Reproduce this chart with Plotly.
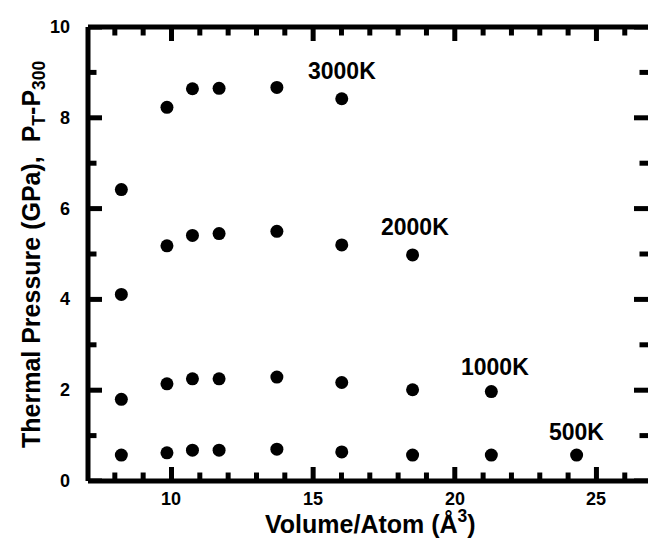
import plotly.graph_objects as go

# Volume per atom (Å^3) at which the thermal pressure was evaluated
volume = [8.23, 9.84, 10.74, 11.68, 13.72, 16.01, 18.51, 21.29, 24.30]

# Thermal pressure P_T - P_300 (GPa) for each isotherm
p_3000K = [6.42, 8.23, 8.64, 8.65, 8.67, 8.42]
p_2000K = [4.11, 5.18, 5.41, 5.45, 5.50, 5.20, 4.98]
p_1000K = [1.80, 2.14, 2.25, 2.25, 2.29, 2.17, 2.01, 1.97]
p_500K = [0.57, 0.62, 0.68, 0.68, 0.70, 0.64, 0.57, 0.57, 0.57]

series = [("3000K", p_3000K), ("2000K", p_2000K), ("1000K", p_1000K), ("500K", p_500K)]

# Isotherm labels: (text, volume, pressure) where each label sits
labels = [("3000K", 16.02, 9.04), ("2000K", 18.60, 5.60),
          ("1000K", 21.42, 2.51), ("500K", 24.31, 1.08)]

# Labelled (major) and unlabelled (minor) tick values
x_ticks = [10, 15, 20, 25]
y_ticks = [0, 2, 4, 6, 8, 10]
x_minor = [8, 9, 11, 12, 13, 14, 16, 17, 18, 19, 21, 22, 23, 24, 26]
y_minor = [1, 3, 5, 7, 9]

X_RANGE = [7.053, 26.82]
Y_RANGE = [0, 10]

FONT = "Liberation Sans, Arial, sans-serif"
LABEL_FONT = dict(family=FONT, size=18, color="black", weight="bold")
AXIS_W = 5
PLOT_W, PLOT_H = 560, 454          # plotting-area size in pixels
MAJOR_LEN, MINOR_LEN = 14, 8.5     # inward tick lengths in pixels

fig = go.Figure()
for name, p in series:
    fig.add_trace(go.Scatter(
        x=volume[:len(p)], y=p, mode="markers", name=name,
        marker=dict(symbol="circle", size=13, color="black"),
        showlegend=False,
    ))

fig.update_xaxes(range=X_RANGE, showline=False, ticks="", showticklabels=False,
                 showgrid=False, zeroline=False)
fig.update_yaxes(range=Y_RANGE, showline=False, ticks="", showticklabels=False,
                 showgrid=False, zeroline=False)

TICK_LINE = dict(color="#000000", width=AXIS_W)

# frame on the left, bottom and top edges of the plotting area
for x0, y0, x1, y1 in [(0, 0, 0, 1), (0, 0, 1, 0), (0, 1, 1, 1)]:
    fig.add_shape(type="line", xref="paper", yref="paper",
                  x0=x0, y0=y0, x1=x1, y1=y1, line=TICK_LINE, layer="above")

# inward tick marks on the volume scale (bottom and top edges)
for vals, length in [(x_ticks, MAJOR_LEN), (x_minor, MINOR_LEN)]:
    frac = length / PLOT_H
    for v in vals:
        fig.add_shape(type="line", xref="x", yref="y domain", x0=v, x1=v,
                      y0=0, y1=frac, line=TICK_LINE, layer="above")
        fig.add_shape(type="line", xref="x", yref="y domain", x0=v, x1=v,
                      y0=1, y1=1 - frac, line=TICK_LINE, layer="above")

# inward tick marks on the pressure scale (left and right edges)
for vals, length in [(y_ticks, MAJOR_LEN), (y_minor, MINOR_LEN)]:
    frac = length / PLOT_W
    for v in vals:
        fig.add_shape(type="line", xref="x domain", yref="y", y0=v, y1=v,
                      x0=0, x1=frac, line=TICK_LINE, layer="above")
        fig.add_shape(type="line", xref="x domain", yref="y", y0=v, y1=v,
                      x0=1, x1=1 - frac, line=TICK_LINE, layer="above")

# tick labels, placed on the axis scales
for v in x_ticks:
    fig.add_annotation(x=v, y=-0.0396, xref="x", yref="paper", text=f"<b>{v}</b>",
                       showarrow=False, xanchor="center", yanchor="middle",
                       font=LABEL_FONT)
for v in y_ticks:
    fig.add_annotation(x=-0.0286, y=v, xref="paper", yref="y", text=f"<b>{v}</b>",
                       showarrow=False, xanchor="right", yanchor="middle",
                       font=LABEL_FONT)

fig.update_layout(
    width=648, height=539,
    margin=dict(l=88, r=0, t=27, b=58),
    paper_bgcolor="white", plot_bgcolor="white",
)

for text, vx, vy in labels:
    fig.add_annotation(x=vx, y=vy, xref="x", yref="y", text=text, showarrow=False,
                       xanchor="center", yanchor="middle",
                       font=dict(family=FONT, size=23, color="black", weight="bold"))

fig.add_annotation(x=0.5036, y=-0.09, xref="paper", yref="paper",
                   text="Volume/Atom (Å<sup>3</sup>)", showarrow=False,
                   xanchor="center", yanchor="middle",
                   font=dict(family=FONT, size=25, color="black", weight="bold"))

fig.add_annotation(x=-0.0982, y=0.50, xref="paper", yref="paper",
                   text="Thermal Pressure (GPa),  P<sub>T</sub>-P<sub>300</sub>",
                   textangle=-90, showarrow=False,
                   xanchor="center", yanchor="middle",
                   font=dict(family=FONT, size=25, color="black", weight="bold"))

fig.write_html("out.html")
